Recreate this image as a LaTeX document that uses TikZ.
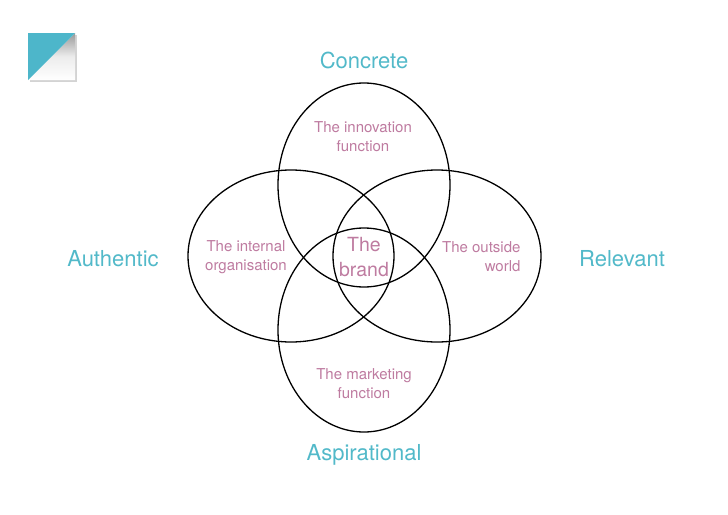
\documentclass[tikz,border=0pt]{standalone}
\usepackage{fontspec}
\setmainfont{TeX Gyre Heros}
\usetikzlibrary{shadows}
\definecolor{labelcyan}{HTML}{52B9C9}
\definecolor{areapink}{HTML}{BE7BA0}
\definecolor{iconcyan}{HTML}{4DB6CA}
\begin{document}
\begin{tikzpicture}[x=1pt,y=-1pt,
	quality/.style={text=labelcyan,font=\fontsize{22}{26}\selectfont},
	area/.style={text=areapink,font=\fontsize{15}{19}\selectfont,align=center},
	ring/.style={draw=black,line width=1.3pt}]
	\useasboundingbox (0,0) rectangle (728,514);
	% corner icon
	\coordinate (itl) at (28,33);
	\coordinate (itr) at (75,33);
	\coordinate (ibr) at (75,80);
	\coordinate (ibl) at (28,80);
	\fill[white,drop shadow={opacity=0.35,shadow xshift=2pt,shadow yshift=-2pt}] (itl) rectangle (ibr);
	\begin{scope}
		\clip (itr) -- (ibr) -- (ibl) -- cycle;
		\shade[shading angle=45,top color=gray!80,bottom color=white,middle color=white!85!gray] (itl) rectangle (ibr);
	\end{scope}
	\fill[iconcyan] (itl) -- (itr) -- (ibl) -- cycle;
	% the four rings
	\draw[ring] (364,185) ellipse [x radius=86,y radius=102];
	\draw[ring] (364,330) ellipse [x radius=86,y radius=102];
	\draw[ring] (291,256) ellipse [x radius=103,y radius=86];
	\draw[ring] (437,256) ellipse [x radius=104,y radius=86];
	% areas
	\node[area] (innovation) at (363,137) {The innovation\\function};
	\node[area] (marketing) at (364,384) {The marketing\\function};
	\node[area] (internal) at (246,257) {The internal\\organisation};
	\node[area,align=right,anchor=east] (outside) at (524,257) {The outside\\world};
	\node[area,font=\fontsize{19.5}{25}\selectfont] (brand) at (364,257) {The\\brand};
	% qualities
	\node[quality] (concrete) at (364,60) {Concrete};
	\node[quality] (aspirational) at (364,455) {Aspirational};
	\node[quality] (authentic) at (113,259) {Authentic};
	\node[quality] (relevant) at (622,259) {Relevant};
\end{tikzpicture}
\end{document}
